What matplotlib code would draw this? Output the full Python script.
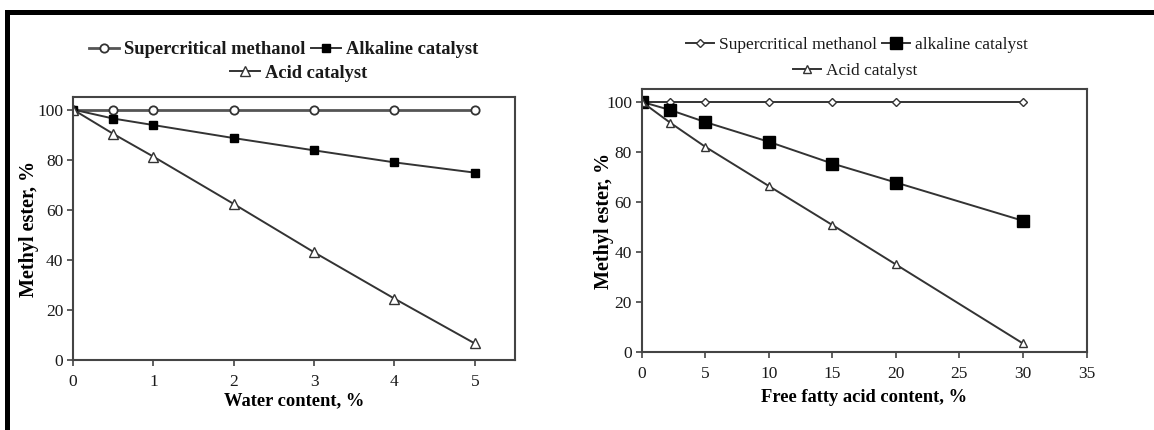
import matplotlib
matplotlib.use("Agg")
import matplotlib.pyplot as plt
from matplotlib.patches import Rectangle

plt.rcParams['font.family'] = ['Liberation Serif', 'DejaVu Serif']
plt.rcParams['text.color'] = '#1a1a1a'
plt.rcParams['xtick.labelcolor'] = '#1a1a1a'
plt.rcParams['ytick.labelcolor'] = '#1a1a1a'

# Left panel: water content
water_x = [0, 0.5, 1, 2, 3, 4, 5]
water_super = [100, 100, 100, 100, 100, 100, 100]
water_alk = [100, 96.4, 93.8, 88.6, 83.7, 78.9, 74.8]
water_acid = [100, 90.3, 81.2, 62.3, 43.0, 24.5, 6.6]
water_xticks = [0, 1, 2, 3, 4, 5]

# Right panel: free fatty acid content
ffa_x = [0, 2.25, 5, 10, 15, 20, 30]
ffa_super = [100, 100, 100, 100, 100, 100, 100]
ffa_alk = [100, 96.7, 91.9, 84.0, 75.3, 67.7, 52.4]
ffa_acid = [100, 91.6, 82.0, 66.3, 50.7, 34.9, 3.3]
ffa_xticks = [0, 5, 10, 15, 20, 25, 30, 35]

yticks = [0, 20, 40, 60, 80, 100]

W, H = 1154, 430
fig = plt.figure(figsize=(W / 100, H / 100), dpi=100)

# Black frame pieces (top and left edges)
fig.add_artist(Rectangle((5 / W, 0), 5 / W, 1 - 10 / H, transform=fig.transFigure,
                         color='black', lw=0))
fig.add_artist(Rectangle((5 / W, 1 - 15 / H), 1 - 5 / W, 5 / H, transform=fig.transFigure,
                         color='black', lw=0))

def style_axes(ax):
    for s in ax.spines.values():
        s.set_color('#444444')
        s.set_linewidth(1.5)
    ax.tick_params(axis='both', direction='out', length=4, width=1.2, color='#444444',
                   labelsize=12.5)
    ax.tick_params(axis='x', pad=6)
    ax.tick_params(axis='y', pad=3)
    ax.set_yticks(yticks)
    ax.set_ylim(0, 105)

line_c = '#333333'

# Left axes
ax1 = fig.add_axes([73 / W, 1 - 360 / H, (515 - 73) / W, (360 - 97) / H])
h1, = ax1.plot(water_x, water_super, color='#555555', lw=2.0, marker='o', ms=6,
               mfc='white', mec='#333333', mew=1.3, label='Supercritical methanol')
h2, = ax1.plot(water_x, water_alk, color=line_c, lw=1.4, marker='s', ms=6,
               mfc='black', mec='black', label='Alkaline catalyst')
h3, = ax1.plot(water_x, water_acid, color=line_c, lw=1.4, marker='^', ms=7.5,
               mfc='white', mec='#333333', mew=1.0, label='Acid catalyst')
ax1.set_xlim(0, 5.5)
ax1.set_xticks(water_xticks)
style_axes(ax1)
ax1.set_xlabel('Water content, %', fontsize=13.3, fontweight='bold', labelpad=2)
ax1.set_ylabel('Methyl ester, %', fontsize=14.5, fontweight='bold', labelpad=-1)

leg_kw = dict(frameon=False, handlelength=1.6, handletextpad=0.3, columnspacing=0.3,
              borderaxespad=0, borderpad=0)
fig.legend([h1, h2], ['Supercritical methanol', 'Alkaline catalyst'], ncol=2,
           loc='center', bbox_to_anchor=(284 / W, 1 - 50 / H),
           prop={'weight': 'bold', 'size': 13.3}, **leg_kw)
fig.legend([h3], ['Acid catalyst'], ncol=1,
           loc='center', bbox_to_anchor=(299 / W, 1 - 73 / H),
           prop={'weight': 'bold', 'size': 13.3}, **leg_kw)

# Right axes
ax2 = fig.add_axes([641.7 / W, 1 - 351.7 / H, (1086.5 - 641.7) / W, (351.7 - 89.3) / H])
g1, = ax2.plot(ffa_x, ffa_super, color=line_c, lw=1.4, marker='D', ms=4.5,
               mfc='white', mec='#333333', mew=1.0, label='Supercritical methanol')
g2, = ax2.plot(ffa_x, ffa_alk, color=line_c, lw=1.4, marker='s', ms=8,
               mfc='black', mec='black', label='alkaline catalyst')
g3, = ax2.plot(ffa_x, ffa_acid, color=line_c, lw=1.4, marker='^', ms=6,
               mfc='white', mec='#333333', mew=1.0, label='Acid catalyst')
ax2.set_xlim(0, 35)
ax2.set_xticks(ffa_xticks)
style_axes(ax2)
ax2.set_xlabel('Free fatty acid content, %', fontsize=13.3, fontweight='bold', labelpad=5)
ax2.set_ylabel('Methyl ester, %', fontsize=14.5, fontweight='bold', labelpad=-6)

fig.legend([g1, g2], ['Supercritical methanol', 'alkaline catalyst'], ncol=2,
           loc='center', bbox_to_anchor=(857 / W, 1 - 45 / H),
           prop={'size': 12.5}, **leg_kw)
fig.legend([g3], ['Acid catalyst'], ncol=1,
           loc='center', bbox_to_anchor=(855 / W, 1 - 71 / H),
           prop={'size': 12.5}, **leg_kw)

fig.savefig('out.png', dpi=100)
